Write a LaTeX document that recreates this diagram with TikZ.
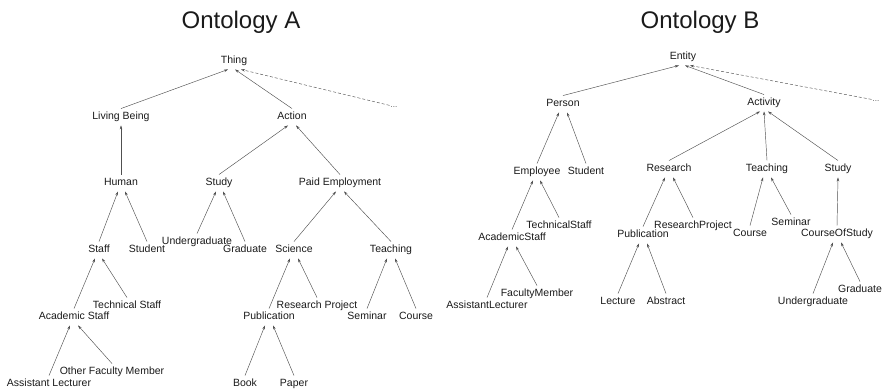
\documentclass[tikz,border=0pt]{standalone}
\usepackage{fontspec}
\setmainfont{Liberation Sans}
\usetikzlibrary{arrows.meta}
\definecolor{txt}{HTML}{1A1A1A}
\definecolor{ln}{HTML}{505050}
\tikzset{
  lbl/.style={font=\fontsize{10.5}{12}\selectfont, text=txt, inner xsep=1pt, inner ysep=3pt, text height=8pt, text depth=2.5pt},
  ttl/.style={font=\fontsize{24}{28}\selectfont, text=txt},
  dotsn/.style={font=\fontsize{8}{9}\selectfont, text=ln, inner sep=1pt},
  edge/.style={draw=ln, line width=0.45pt, -{Stealth[length=4pt,width=2.6pt]}},
  dedge/.style={draw=ln, line width=0.45pt, dash pattern=on 3pt off 2pt, -{Stealth[length=4pt,width=2.6pt]}}
}
\newcommand{\isa}[3]{\draw[edge] (#1.north) -- ([xshift=#3pt]#2.south);}
\begin{document}
\begin{tikzpicture}[x=1pt,y=-1pt]
\useasboundingbox (0,0) rectangle (882,390);
% titles
\node[ttl] (titleA) at (241,22) {Ontology A};
\node[ttl] (titleB) at (700,22) {Ontology B};
% Ontology A
\node[lbl] (thing) at (234,61) {Thing};
\node[lbl] (living) at (121,117) {Living Being};
\node[lbl] (action) at (292,117) {Action};
\node[dotsn] (dotsA) at (394,107) {...};
\node[lbl] (human) at (121,183) {Human};
\node[lbl] (studyA) at (219,183) {Study};
\node[lbl] (paid) at (340,183) {Paid Employment};
\node[lbl] (staff) at (99,250) {Staff};
\node[lbl] (studentA) at (147,250) {Student};
\node[lbl] (undergradA) at (197,242) {Undergraduate};
\node[lbl] (gradA) at (245,250) {Graduate};
\node[lbl] (science) at (294,250) {Science};
\node[lbl] (teachA) at (391,250) {Teaching};
\node[lbl] (techA) at (127,306) {Technical Staff};
\node[lbl] (acadA) at (74,317) {Academic Staff};
\node[lbl] (resprojA) at (317,306) {Research Project};
\node[lbl] (pubA) at (269,317) {Publication};
\node[lbl] (seminarA) at (367,317) {Seminar};
\node[lbl] (courseA) at (416,317) {Course};
\node[lbl] (otherfac) at (112,372) {Other Faculty Member};
\node[lbl] (asslecA) at (49,384) {Assistant Lecturer};
\node[lbl] (book) at (245,384) {Book};
\node[lbl] (paper) at (294,384) {Paper};
% Ontology B
\node[lbl] (entity) at (683,57) {Entity};
\node[lbl] (person) at (563,104) {Person};
\node[lbl] (activity) at (764,103) {Activity};
\node[dotsn] (dotsB) at (876,101) {...};
\node[lbl] (employee) at (537,172) {Employee};
\node[lbl] (studentB) at (586,172) {Student};
\node[lbl] (research) at (669,169) {Research};
\node[lbl] (teachB) at (767,169) {Teaching};
\node[lbl] (studyB) at (838,169) {Study};
\node[lbl] (techB) at (559,226) {TechnicalStaff};
\node[lbl] (acadB) at (512,238) {AcademicStaff};
\node[lbl] (resprojB) at (693,226) {ResearchProject};
\node[lbl] (pubB) at (643,235) {Publication};
\node[lbl] (courseB) at (750,234) {Course};
\node[lbl] (seminarB) at (791,223) {Seminar};
\node[lbl] (cos) at (837,234) {CourseOfStudy};
\node[lbl] (facB) at (537,294) {FacultyMember};
\node[lbl] (asslecB) at (487,306) {AssistantLecturer};
\node[lbl] (lecture) at (618,302) {Lecture};
\node[lbl] (abstract) at (666,302) {Abstract};
\node[lbl] (gradB) at (860,290) {Graduate};
\node[lbl] (undergradB) at (813,302) {Undergraduate};
% edges A
\isa{living}{thing}{-6}
\isa{action}{thing}{1}
\draw[dedge] (dotsA.north west) -- ([xshift=7pt]thing.south);
\isa{human}{living}{0}
\isa{studyA}{action}{-4}
\isa{paid}{action}{4}
\isa{staff}{human}{-3}
\isa{studentA}{human}{4}
\isa{undergradA}{studyA}{-3}
\isa{gradA}{studyA}{4}
\isa{science}{paid}{-4}
\isa{teachA}{paid}{4}
\isa{acadA}{staff}{-4}
\isa{techA}{staff}{3}
\isa{pubA}{science}{-4}
\isa{resprojA}{science}{4}
\isa{seminarA}{teachA}{-4}
\isa{courseA}{teachA}{4}
\isa{asslecA}{acadA}{-4}
\isa{otherfac}{acadA}{4}
\isa{book}{pubA}{-4}
\isa{paper}{pubA}{4}
% edges B
\isa{person}{entity}{-4}
\isa{activity}{entity}{2}
\draw[dedge] (dotsB.north west) -- ([xshift=7pt]entity.south);
\isa{employee}{person}{-4}
\isa{studentB}{person}{4}
\isa{research}{activity}{-4}
\isa{teachB}{activity}{0}
\isa{studyB}{activity}{4}
\isa{acadB}{employee}{-4}
\isa{techB}{employee}{3}
\isa{pubB}{research}{-4}
\isa{resprojB}{research}{4}
\isa{courseB}{teachB}{-4}
\isa{seminarB}{teachB}{4}
\isa{cos}{studyB}{0}
\isa{asslecB}{acadB}{-4}
\isa{facB}{acadB}{4}
\isa{lecture}{pubB}{-4}
\isa{abstract}{pubB}{4}
\isa{undergradB}{cos}{-4}
\isa{gradB}{cos}{4}
\end{tikzpicture}
\end{document}
